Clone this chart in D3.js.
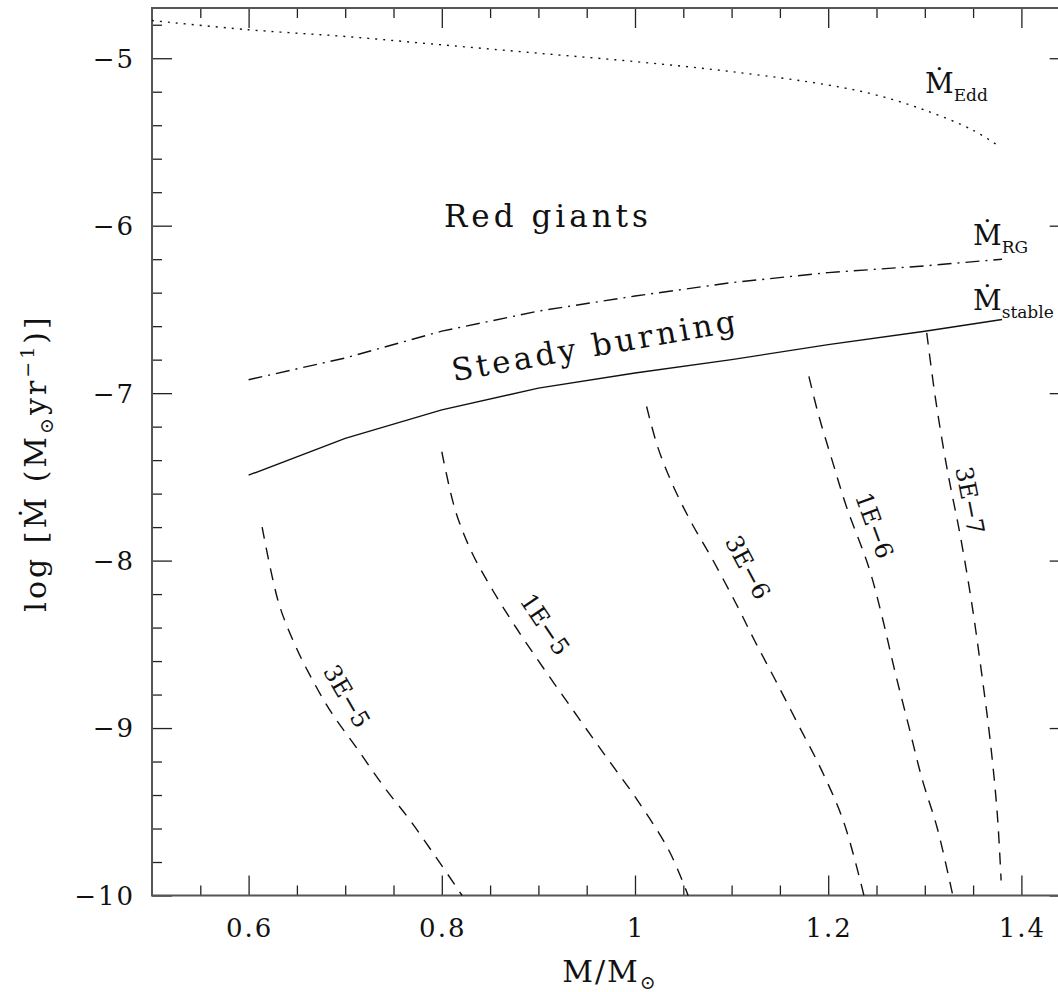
<!DOCTYPE html>
<html>
<head>
<meta charset="utf-8">
<script src="https://cdn.jsdelivr.net/npm/d3@7"></script>
<style>
  body { margin: 0; background: #fff; }
  text { font-family: "DejaVu Serif", "Liberation Serif", serif; fill: #111; }
</style>
</head>
<body>
<svg id="chart" width="1058" height="992"></svg>
<script>
// values: mass in solar masses, rate as log Mdot
var eddMass = [0.5, 0.6, 0.7, 0.8, 0.9, 1.0, 1.1, 1.2, 1.25, 1.3, 1.35, 1.378];
var eddRate = [-4.775, -4.83, -4.87, -4.92, -4.97, -5.02, -5.08, -5.16, -5.22, -5.31, -5.43, -5.53];

var rgMass = [0.6, 0.7, 0.8, 0.9, 1.0, 1.1, 1.2, 1.3, 1.38];
var rgRate = [-6.92, -6.79, -6.63, -6.51, -6.42, -6.34, -6.28, -6.24, -6.20];

var stableMass = [0.6, 0.7, 0.8, 0.9, 1.0, 1.1, 1.2, 1.3, 1.38];
var stableRate = [-7.49, -7.27, -7.10, -6.97, -6.88, -6.80, -6.71, -6.63, -6.56];

// dashed curves, one per label
var contourLabels = ["3E-5", "1E-5", "3E-6", "1E-6", "3E-7"];
var c3e5Mass = [0.614, 0.631, 0.647, 0.664, 0.686, 0.712, 0.740, 0.767, 0.795, 0.821];
var c3e5Rate = [-7.80, -8.25, -8.49, -8.69, -8.91, -9.12, -9.35, -9.55, -9.78, -10.0];
var c1e5Mass = [0.800, 0.814, 0.831, 0.853, 0.878, 0.905, 0.933, 0.960, 0.980, 1.000, 1.035, 1.055];
var c1e5Rate = [-7.35, -7.70, -7.95, -8.18, -8.41, -8.64, -8.87, -9.09, -9.25, -9.41, -9.73, -10.0];
var c3e6Mass = [1.012, 1.024, 1.040, 1.059, 1.079, 1.104, 1.124, 1.145, 1.169, 1.193, 1.216, 1.237];
var c3e6Rate = [-7.08, -7.33, -7.56, -7.78, -7.98, -8.25, -8.48, -8.71, -8.98, -9.25, -9.56, -10.0];
var c1e6Mass = [1.180, 1.190, 1.204, 1.219, 1.242, 1.256, 1.269, 1.283, 1.297, 1.313, 1.329];
var c1e6Rate = [-6.90, -7.13, -7.40, -7.68, -8.04, -8.34, -8.66, -8.98, -9.30, -9.60, -10.0];
var c3e7Mass = [1.302, 1.311, 1.323, 1.337, 1.349, 1.359, 1.368, 1.375, 1.379];
var c3e7Rate = [-6.64, -7.03, -7.45, -7.86, -8.27, -8.68, -9.09, -9.51, -9.91];

var xMajor = [0.6, 0.8, 1.0, 1.2, 1.4];
var xLabels = ["0.6", "0.8", "1", "1.2", "1.4"];
var yMajor = [-10, -9, -8, -7, -6, -5];
var yLabels = ["\u221210", "\u22129", "\u22128", "\u22127", "\u22126", "\u22125"];

var svg = d3.select("#chart");
var frameL = 152, frameT = 8, frameB = 895.5;
var x = d3.scaleLinear().domain([0.5, 1.45]).range([frameL, frameL + 0.95 * 966]);
var y = d3.scaleLinear().domain([-10, -4.7]).range([frameB, frameT]);
var frameR = x(1.45);

var xMinor = d3.range(0.55, 1.451, 0.05).filter(function(v) { return Math.abs(v * 5 - Math.round(v * 5)) > 1e-6; });
var yMinor = d3.range(-9.8, -4.69, 0.2).filter(function(v) { return Math.abs(v - Math.round(v)) > 1e-6; });

// inward ticks on all four sides
function ticks(axis, vals, size, tr) {
    var g = svg.append("g").attr("transform", tr)
        .call(axis.tickValues(vals).tickSize(-size).tickFormat(""));
    g.select(".domain").remove();
    g.selectAll("line").attr("stroke", "#222").attr("stroke-width", 1.3);
}
ticks(d3.axisBottom(x), xMajor, 20, "translate(0," + frameB + ")");
ticks(d3.axisBottom(x), xMinor, 10, "translate(0," + frameB + ")");
ticks(d3.axisTop(x), xMajor, 20, "translate(0," + frameT + ")");
ticks(d3.axisTop(x), xMinor, 10, "translate(0," + frameT + ")");
ticks(d3.axisLeft(y), yMajor, 20, "translate(" + frameL + ",0)");
ticks(d3.axisLeft(y), yMinor, 10, "translate(" + frameL + ",0)");
ticks(d3.axisRight(y), yMajor, 20, "translate(" + frameR + ",0)");
ticks(d3.axisRight(y), yMinor, 10, "translate(" + frameR + ",0)");

svg.append("rect").attr("x", frameL).attr("y", frameT)
    .attr("width", frameR - frameL).attr("height", frameB - frameT)
    .attr("fill", "none").attr("stroke", "#555").attr("stroke-width", 2);

svg.selectAll(".xl").data(xMajor).enter().append("text")
    .attr("x", function(d) { return x(d) + 1; }).attr("y", 937)
    .attr("text-anchor", "middle").attr("font-size", 26).attr("letter-spacing", 2)
    .text(function(d, i) { return xLabels[i]; });
svg.selectAll(".yl").data(yMajor).enter().append("text")
    .attr("x", 135).attr("y", function(d) { return y(d); }).attr("dy", "0.36em")
    .attr("text-anchor", "end").attr("font-size", 26).attr("letter-spacing", 2)
    .text(function(d, i) { return yLabels[i]; });

// curves
function curve(m, r, dash, shape) {
    var line = d3.line().curve(shape)
        .x(function(d) { return x(d[0]); }).y(function(d) { return y(d[1]); });
    svg.append("path").datum(d3.zip(m, r)).attr("d", line)
        .attr("fill", "none").attr("stroke", "#111").attr("stroke-width", 1.4)
        .attr("stroke-dasharray", dash);
}
curve(eddMass, eddRate, "2,6", d3.curveCatmullRom);
curve(rgMass, rgRate, "14,6,2,6", d3.curveLinear);
curve(stableMass, stableRate, null, d3.curveLinear);
var contours = [[c3e5Mass, c3e5Rate], [c1e5Mass, c1e5Rate], [c3e6Mass, c3e6Rate], [c1e6Mass, c1e6Rate], [c3e7Mass, c3e7Rate]];
contours.forEach(function(c) { curve(c[0], c[1], "12,9", d3.curveCatmullRom); });

// labels on the dashed curves
var labelSpots = [[0.702, -8.81, 60], [0.907, -8.38, 56], [1.117, -8.04, 62], [1.248, -7.79, 70], [1.347, -7.64, 79]];
contourLabels.forEach(function(t, i) {
    var s = labelSpots[i];
    svg.append("text")
        .attr("transform", "translate(" + x(s[0]) + "," + y(s[1]) + ") rotate(" + s[2] + ")")
        .attr("text-anchor", "middle").attr("dy", "0.36em").attr("font-size", 24)
        .text(t.replace("-", "\u2212"));
});

svg.append("text").attr("x", 548).attr("y", 227).attr("text-anchor", "middle")
    .attr("font-size", 31).attr("letter-spacing", 4).text("Red giants");
svg.append("text").attr("transform", "translate(597,356) rotate(-10)")
    .attr("text-anchor", "middle").attr("font-size", 31).attr("letter-spacing", 3.5).text("Steady burning");

function mdot(px, py, sub) {
    var t = svg.append("text").attr("x", px).attr("y", py).attr("font-size", 28);
    t.append("tspan").text("\u1E40");
    t.append("tspan").attr("font-size", 17).attr("dy", 8).text(sub);
}
mdot(925, 93, "Edd");
mdot(973, 245, "RG");
mdot(973, 310, "stable");

// axis titles
var xt = svg.append("text").attr("x", 610).attr("y", 982).attr("text-anchor", "middle")
    .attr("font-size", 30).attr("letter-spacing", 2);
xt.append("tspan").text("M/M");
xt.append("tspan").attr("font-size", 19).attr("dy", 7).text("\u2299");

var yt = svg.append("text").attr("transform", "translate(46,463) rotate(-90)")
    .attr("text-anchor", "middle").attr("font-size", 30).attr("letter-spacing", 3);
yt.append("tspan").text("log [\u1E40 (M");
yt.append("tspan").attr("font-size", 19).attr("dy", 7).text("\u2299");
yt.append("tspan").attr("dy", -7).text("yr");
yt.append("tspan").attr("font-size", 19).attr("dy", -12).text("\u22121");
yt.append("tspan").attr("dy", 12).text(")]");
</script>
</body>
</html>
